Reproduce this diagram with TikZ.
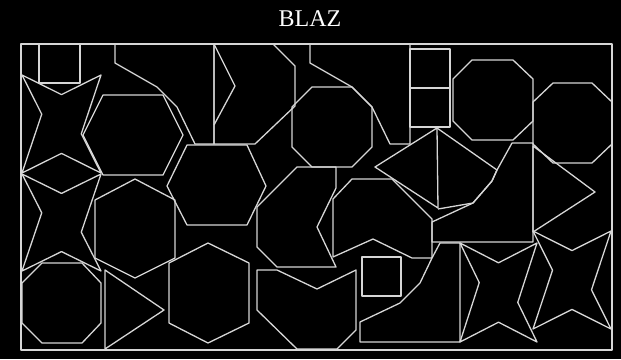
\documentclass[tikz,border=0pt]{standalone}
\usepackage{fontspec}
\setmainfont{Liberation Serif}
\definecolor{lc}{RGB}{214,214,214}
\begin{document}
\begin{tikzpicture}[x=1pt,y=-1pt,
  shp/.style={draw=lc,line width=1.3pt,line join=round},
  star/.style={shp}]
\fill[black] (0,0) rectangle (621,359);
\useasboundingbox (0,0) rectangle (621,359);
\node[text=white,font=\fontsize{24}{24}\selectfont,anchor=base] (title) at (310,26) {BLAZ};
% outer frame
\draw[shp] (21,44) rectangle (612,350);
% small rect top-left
\draw[shp] (39,44) rectangle (80,83);
% stars: corners + inner points
\newcommand{\mystar}[4]{%
  \draw[shp] (#1,#2) -- ({#1+0.5*#3},{#2+0.2*#4}) -- ({#1+#3},#2) -- ({#1+0.75*#3},{#2+0.6*#4})
   -- ({#1+#3},{#2+#4}) -- ({#1+0.5*#3},{#2+0.8*#4}) -- (#1,{#2+#4}) -- ({#1+0.25*#3},{#2+0.4*#4}) -- cycle;}
\mystar{22}{75}{79}{98}
\mystar{22}{174}{79}{97}
\mystar{460}{243}{77}{99}
\mystar{533}{231}{78}{98}
% hexagons (flat top)
\draw[shp] (103,95) -- (163,95) -- (183,135) -- (163,175) -- (103,175) -- (83,135) -- cycle;
\draw[shp] (187,145) -- (247,145) -- (266,186) -- (247,225) -- (187,225) -- (167,186) -- cycle;
% hexagons (pointy top)
\draw[shp] (135,179) -- (175,200) -- (175,258) -- (135,278) -- (95,258) -- (95,200) -- cycle;
\draw[shp] (208,243) -- (249,263) -- (249,323) -- (208,343) -- (169,323) -- (169,263) -- cycle;
% top chamfered shapes
\draw[shp] (115,44) -- (214,44) -- (214,144) -- (195,144) -- (177,107) -- (157,87) -- (115,63) -- cycle;
\draw[shp] (310,44) -- (410,44) -- (410,144) -- (390,144) -- (372,107) -- (352,87) -- (310,63) -- cycle;
% shape with chevron
\draw[shp] (214,44) -- (273,44) -- (295,66) -- (295,106) -- (255,144) -- (214,144) -- cycle;
\draw[shp] (214,44) -- (235,86) -- (214,125);
% octagons
\draw[shp] (312,87) -- (352,87) -- (372,107) -- (372,147) -- (352,167) -- (312,167) -- (292,147) -- (292,107) -- cycle;
\draw[shp] (472,60) -- (513,60) -- (533,79) -- (533,121) -- (513,140) -- (472,140) -- (453,121) -- (453,79) -- cycle;
\draw[shp] (553,83) -- (592,83) -- (612,102) -- (612,144) -- (592,163) -- (553,163) -- (533,144) -- (533,102) -- cycle;
\draw[shp] (42,263) -- (82,263) -- (101,283) -- (101,323) -- (82,343) -- (42,343) -- (22,323) -- (22,283) -- cycle;
% stacked rects
\draw[shp] (410,49) rectangle (450,88);
\draw[shp] (410,88) rectangle (450,127);
% triangles middle
\draw[shp] (437,128) -- (375,167) -- (438,208) -- cycle;
\draw[shp] (437,128) -- (497,170) -- (492,181) -- (473,203) -- (438,209);
\draw[shp] (512,143) -- (533,143) -- (533,242) -- (432,242) -- (432,222) -- (473,203) -- (492,181) -- (497,170) -- cycle;
\draw[shp] (533,146) -- (595,192) -- (533,232) -- cycle;
% notched shapes
\draw[shp] (352,179) -- (392,179) -- (432,219) -- (432,258) -- (412,258) -- (373,239) -- (333,257) -- (333,199) -- cycle;
\draw[shp] (297,167) -- (336,167) -- (336,188) -- (317,227) -- (336,267) -- (277,267) -- (257,247) -- (257,207) -- cycle;
\draw[shp] (257,270) -- (277,270) -- (317,289) -- (356,270) -- (356,330) -- (337,349) -- (297,349) -- (257,310) -- cycle;
\draw[shp] (360,322) -- (400,303) -- (420,283) -- (432,258) -- (440,243) -- (460,243) -- (460,342) -- (360,342) -- cycle;
% bottom triangle and square
\draw[shp] (105,270) -- (164,310) -- (105,349) -- cycle;
\draw[shp] (362,257) rectangle (401,296);
\end{tikzpicture}
\end{document}
